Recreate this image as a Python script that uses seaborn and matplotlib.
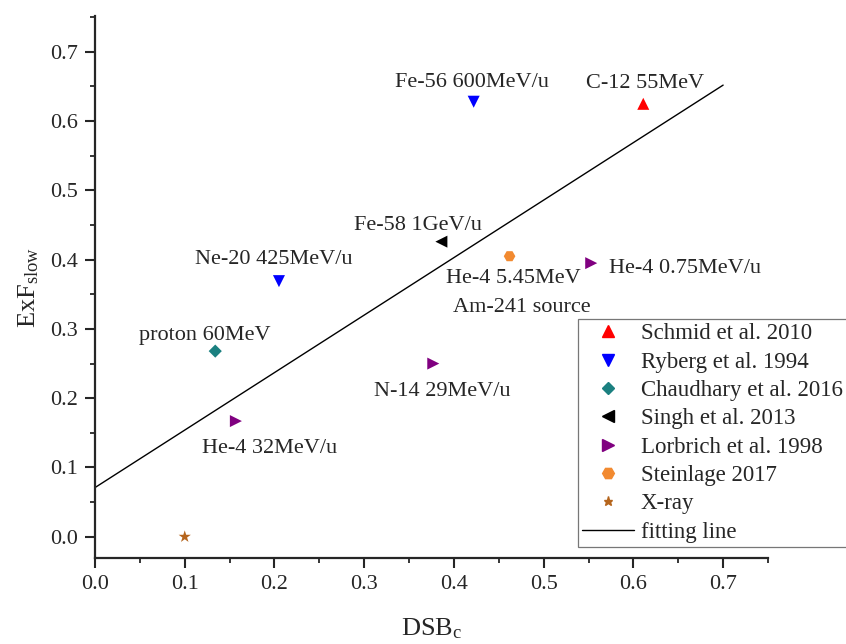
import matplotlib
matplotlib.use("Agg")
import matplotlib.pyplot as plt
import seaborn as sns
import pandas as pd
from matplotlib.lines import Line2D
from matplotlib.ticker import MultipleLocator, FormatStrFormatter

# ---- data ----
studies = ["Schmid et al. 2010", "Ryberg et al. 1994", "Ryberg et al. 1994",
           "Chaudhary et al. 2016", "Singh et al. 2013", "Lorbrich et al. 1998",
           "Lorbrich et al. 1998", "Lorbrich et al. 1998", "Steinlage 2017", "X-ray"]
dsb = [0.611, 0.422, 0.205, 0.134, 0.386, 0.553, 0.377, 0.157, 0.462, 0.100]
exf = [0.625, 0.628, 0.369, 0.268, 0.426, 0.395, 0.250, 0.167, 0.405, 0.0]
labels = ["C-12 55MeV", "Fe-56 600MeV/u", "Ne-20 425MeV/u", "proton 60MeV",
          "Fe-58 1GeV/u", "He-4 0.75MeV/u", "N-14 29MeV/u", "He-4 32MeV/u",
          "He-4 5.45MeV", ""]
extra_label = "Am-241 source"   # second line under the Steinlage point
legend_order = ["Schmid et al. 2010", "Ryberg et al. 1994", "Chaudhary et al. 2016",
                "Singh et al. 2013", "Lorbrich et al. 1998", "Steinlage 2017", "X-ray"]
fit_x = [0.0, 0.7]
fit_y = [0.071, 0.652]

colors = {"Schmid et al. 2010": "#ff0000", "Ryberg et al. 1994": "#0000ff",
          "Chaudhary et al. 2016": "#1b8080", "Singh et al. 2013": "#000000",
          "Lorbrich et al. 1998": "#800080", "Steinlage 2017": "#f28a30",
          "X-ray": "#b5651d"}
markers = {"Schmid et al. 2010": "^", "Ryberg et al. 1994": "v",
           "Chaudhary et al. 2016": "D", "Singh et al. 2013": "<",
           "Lorbrich et al. 1998": ">", "Steinlage 2017": "H", "X-ray": "*"}
sizes = {"^": 75, "v": 75, "D": 45, "<": 75, ">": 75, "H": 70, "*": 85}
# label offsets in points (dx, dy to baseline) and horizontal alignment
offsets = [(1, 11.7, "center"), (-1.5, 10.6, "center"), (-3.8, 12.7, "center"),
           (-7.6, 8, "center"), (-17, 8.4, "center"), (12.5, -7, "left"),
           (6.3, -23.5, "center"), (24, -23.3, "center"), (2.7, -19, "center"),
           (0, 0, "center")]
extra_offset = (9, -40.5)

df = pd.DataFrame({"study": studies, "DSB": dsb, "ExF": exf, "label": labels})

sns.set_style("ticks")
plt.rcParams["font.family"] = ["Liberation Serif", "DejaVu Serif"]
plt.rcParams["mathtext.fontset"] = "custom"
plt.rcParams["mathtext.rm"] = "Liberation Serif"
plt.rcParams["mathtext.it"] = "Liberation Serif"

fig = plt.figure(figsize=(8.46, 6.44), dpi=100)
ax = fig.add_axes([0.1123, 0.1335, 0.7955, 0.8417])

for st in legend_order:
    sub = df[df["study"] == st]
    m = markers[st]
    sns.scatterplot(data=sub, x="DSB", y="ExF", color=colors[st], marker=m,
                    s=sizes[m], edgecolor="none", ax=ax, legend=False, zorder=3)

sns.lineplot(x=fit_x, y=fit_y, color="black", lw=1.0, ax=ax, legend=False)

for (x, y, lab), (dx, dy, ha) in zip(zip(dsb, exf, labels), offsets):
    if lab:
        ax.annotate(lab, (x, y), xytext=(dx, dy), textcoords="offset points",
                    ha=ha, va="baseline", fontsize=16)
ax.annotate(extra_label, (dsb[8], exf[8]), xytext=extra_offset,
            textcoords="offset points", ha="center", va="baseline", fontsize=16)

ax.set_xlim(0, 0.75)
ax.set_ylim(-0.0307, 0.7518)
ax.set_xticks([0.0, 0.1, 0.2, 0.3, 0.4, 0.5, 0.6, 0.7])
ax.set_yticks([0.0, 0.1, 0.2, 0.3, 0.4, 0.5, 0.6, 0.7])
ax.xaxis.set_minor_locator(MultipleLocator(0.05))
ax.yaxis.set_minor_locator(MultipleLocator(0.05))
ax.xaxis.set_major_formatter(FormatStrFormatter("%.1f"))
ax.yaxis.set_major_formatter(FormatStrFormatter("%.1f"))
ax.tick_params(axis="both", which="major", length=7, width=1.5, labelsize=16,
               direction="out", pad=5)
ax.tick_params(axis="both", which="minor", length=3.5, width=1.3, direction="out")
sns.despine(ax=ax)
for sp in ["left", "bottom"]:
    ax.spines[sp].set_linewidth(1.6)

ax.set_xlabel("DSB$_{\\mathrm{c}}$", fontsize=19, labelpad=16)
ax.set_ylabel("ExF$_{\\mathrm{slow}}$", fontsize=19, labelpad=7)

handles = [Line2D([], [], ls="none", marker=markers[st], color=colors[st],
                  markersize=8.5 if markers[st] not in ("D", "*") else 6.5)
           for st in legend_order]
handles.append(Line2D([], [], color="black", lw=1.0))
leg = fig.legend(handles, legend_order + ["fitting line"], loc="lower left",
                 bbox_to_anchor=(578 / 846, 1 - 547 / 644),
                 bbox_transform=fig.transFigure, fontsize=16.5, frameon=True,
                 fancybox=False, edgecolor="#555555", handlelength=2.25,
                 handletextpad=0.3, borderpad=0.18, labelspacing=0.32,
                 borderaxespad=0)
leg.get_frame().set_linewidth(0.9)

fig.savefig("out.png", dpi=100)
